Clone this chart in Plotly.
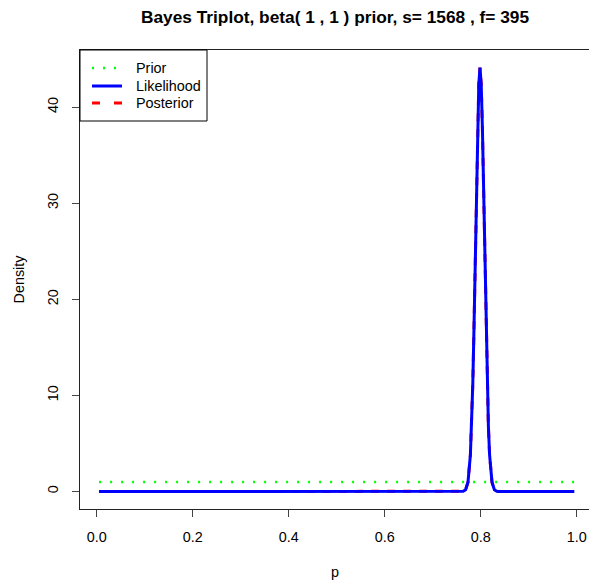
import plotly.graph_objects as go

# Prior: beta(1,1) -> flat density
prior_p = [0.005, 0.995]
prior_d = [1.0, 1.0]

# Likelihood / posterior densities
post_p = [0.005, 0.7585, 0.7635, 0.7685, 0.7735, 0.7785, 0.781, 0.7835, 0.786,
          0.7885, 0.791, 0.7935, 0.796, 0.7985, 0.801, 0.8035, 0.806, 0.8085,
          0.811, 0.8135, 0.816, 0.8185, 0.8235, 0.8285, 0.8335, 0.8385, 0.995]
post_d = [0.0, 0.0, 0.02, 0.18, 0.98, 3.8, 6.8, 11.2, 17.0, 24.0, 31.3, 37.9,
          42.4, 44.1, 42.4, 37.9, 31.3, 24.0, 17.0, 11.2, 6.8, 3.8, 0.98, 0.18,
          0.02, 0.0, 0.0]
lik_p = post_p
lik_d = post_d

legend_names = ["Prior", "Likelihood", "Posterior"]

x_ticks = [0.0, 0.2, 0.4, 0.6, 0.8, 1.0]
x_ticktext = ["0.0", "0.2", "0.4", "0.6", "0.8", "1.0"]
y_ticks = [0, 10, 20, 30, 40]

FONT = "Liberation Sans, Arial, Helvetica, sans-serif"
W, H = 589, 581
L, R, T, B = 80, 0, 50, 581 - 509
PW, PH = W - L - R, H - T - B


def px(xp):  # page x pixel -> paper x
    return (xp - L) / PW


def py(yp):  # page y pixel -> paper y
    return 1 - (yp - T) / PH


PRIOR_LINE = dict(color="#00FF00", width=2.5, dash="2px,9px")
POST_LINE = dict(color="#FF0000", width=3, dash="8px,14px")
LIK_LINE = dict(color="#0000FF", width=3)

fig = go.Figure()
fig.add_trace(go.Scatter(x=prior_p, y=prior_d, mode="lines", name="Prior",
                         line=PRIOR_LINE))
fig.add_trace(go.Scatter(x=post_p, y=post_d, mode="lines", name="Posterior",
                         line=dict(color="#FF0000", width=3, dash="8px,8px")))
fig.add_trace(go.Scatter(x=lik_p, y=lik_d, mode="lines", name="Likelihood",
                         line=LIK_LINE))

# legend box drawn like R's legend()
shapes = [dict(type="rect", xref="paper", yref="paper", x0=px(80), x1=px(207),
               y0=py(121), y1=py(50), line=dict(color="black", width=1),
               fillcolor="white", layer="above")]
annotations = []
for name, yy, ln in zip(legend_names, [68, 86, 103], [PRIOR_LINE, LIK_LINE, POST_LINE]):
    shapes.append(dict(type="line", xref="paper", yref="paper", x0=px(92), x1=px(122),
                       y0=py(yy), y1=py(yy), line=ln, layer="above"))
    annotations.append(dict(text=name, xref="paper", yref="paper", x=px(134), y=py(yy),
                            xanchor="left", yanchor="middle", showarrow=False,
                            font=dict(size=14.4, family=FONT)))

annotations += [
    dict(text="Density", xref="paper", yref="paper", x=px(18), y=0.5,
         textangle=-90, showarrow=False, xanchor="center", yanchor="middle",
         font=dict(size=14.4, family=FONT)),
    dict(text="p", xref="paper", yref="paper", x=px(334.5), y=py(572),
         showarrow=False, xanchor="center", yanchor="middle",
         font=dict(size=14.4, family=FONT)),
]

fig.update_layout(
    width=W, height=H,
    margin=dict(l=L, r=R, t=T, b=B, autoexpand=False),
    paper_bgcolor="white", plot_bgcolor="white",
    font=dict(family=FONT, size=14.4, color="black"),
    title=dict(text="<b>Bayes Triplot, beta( 1 , 1 ) prior, s= 1568 , f= 395</b>",
               x=px(335), xref="paper", xanchor="center", y=1 - 17 / H,
               yref="container", yanchor="middle", font=dict(size=17.3, family=FONT)),
    showlegend=False,
    hovermode=False,
    xaxis=dict(range=[-0.0348, 1.0256], tickvals=x_ticks, ticktext=x_ticktext,
               showgrid=False, zeroline=False, showline=True, mirror=True,
               linecolor="#222", linewidth=1, ticks="outside", ticklen=7,
               tickcolor="#444", automargin=False, ticklabelstandoff=8,
               ticklabeloverflow="allow"),
    yaxis=dict(range=[-1.82, 45.94], tickvals=y_ticks, tickangle=-90,
               showgrid=False, zeroline=False, showline=True, mirror=False,
               linecolor="#222", linewidth=1, ticks="outside", ticklen=7,
               tickcolor="#444", automargin=False, ticklabelstandoff=8),
    shapes=shapes,
    annotations=annotations,
)

fig.write_html(
    "out.html",
    config={"displayModeBar": False},
    post_script=("document.body.style.margin='0';"
                 "document.body.style.overflow='hidden';"
                 "document.documentElement.style.overflow='hidden';"),
)
